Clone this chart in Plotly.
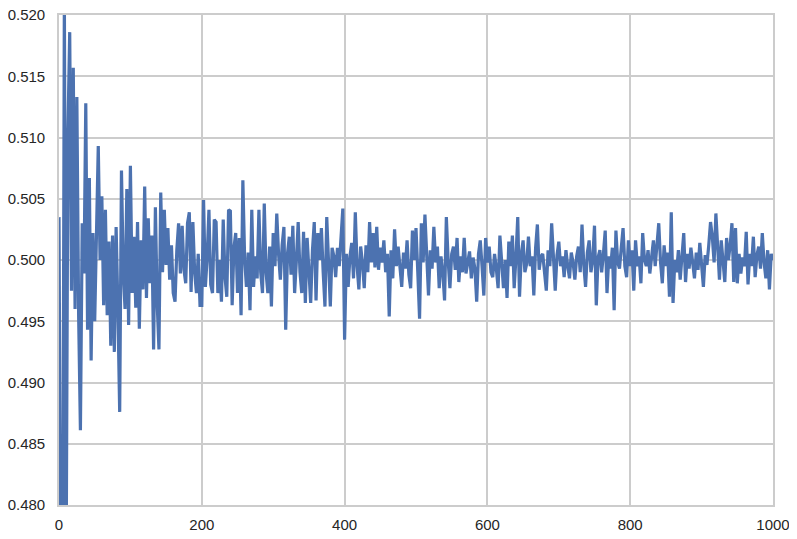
import numpy as np
import plotly.graph_objects as go

# Values, in order of x (0 .. 1000, evenly spaced)
y_000_100 = [0.5035, 0.4700, 0.4680, 0.5215, 0.4750, 0.5104, 0.5186, 0.4975, 0.5157, 0.4960,
             0.5133, 0.4955, 0.4861, 0.5030, 0.4989, 0.5128, 0.4943, 0.5067, 0.4918, 0.5022,
             0.4950, 0.5037, 0.5093, 0.5000, 0.5052, 0.4963, 0.5041, 0.4955, 0.5015, 0.4930,
             0.5020, 0.4925, 0.5027, 0.4960, 0.4876, 0.5073, 0.4990, 0.4960, 0.5058, 0.4947]
y_100_200 = [0.5077, 0.4973, 0.5019, 0.4961, 0.5031, 0.4944, 0.5016, 0.4976, 0.5060, 0.4969,
             0.5034, 0.4981, 0.5020, 0.4927, 0.5043, 0.4965, 0.4927, 0.5055, 0.4990, 0.5041,
             0.4996, 0.5026, 0.4984, 0.5012, 0.4973, 0.4966, 0.5008, 0.5030, 0.4989, 0.5028,
             0.4992, 0.4981, 0.5030, 0.5039, 0.4974, 0.5031, 0.4990, 0.4973, 0.5005, 0.4963]
y_200_300 = [0.4963, 0.5049, 0.4978, 0.5002, 0.5041, 0.4980, 0.4973, 0.5033, 0.5031, 0.4973,
             0.5000, 0.4966, 0.5033, 0.4986, 0.4970, 0.5041, 0.5040, 0.4963, 0.5010, 0.5022,
             0.4973, 0.5018, 0.4955, 0.5065, 0.5001, 0.4978, 0.5006, 0.4959, 0.5041, 0.4978,
             0.5003, 0.4985, 0.5041, 0.4990, 0.4973, 0.5046, 0.4990, 0.4973, 0.5011, 0.4962]
y_300_400 = [0.5022, 0.4995, 0.5038, 0.5005, 0.4984, 0.5012, 0.5027, 0.4943, 0.5005, 0.5019,
             0.4988, 0.5028, 0.4973, 0.5000, 0.5031, 0.4990, 0.4973, 0.5023, 0.4965, 0.5018,
             0.4995, 0.4965, 0.5008, 0.5031, 0.4967, 0.5022, 0.5000, 0.5026, 0.4990, 0.4962,
             0.5035, 0.5000, 0.4962, 0.5010, 0.5003, 0.4986, 0.5010, 0.4995, 0.5020, 0.5042]
y_400_500 = [0.4935, 0.5005, 0.4978, 0.5003, 0.5014, 0.4985, 0.5039, 0.4995, 0.4976, 0.5011,
             0.4998, 0.4977, 0.5012, 0.4990, 0.5031, 0.4998, 0.5022, 0.4994, 0.5027, 0.4992,
             0.5010, 0.4998, 0.5016, 0.4990, 0.5005, 0.4954, 0.5008, 0.4985, 0.5025, 0.4995,
             0.5011, 0.4990, 0.4978, 0.5006, 0.4993, 0.5016, 0.4988, 0.4977, 0.5024, 0.5000]
y_500_600 = [0.5026, 0.4990, 0.4952, 0.5030, 0.4998, 0.5037, 0.5002, 0.4971, 0.5008, 0.4993,
             0.5027, 0.4998, 0.5011, 0.4977, 0.5003, 0.4990, 0.4967, 0.5035, 0.5000, 0.4977,
             0.5005, 0.5011, 0.4992, 0.5018, 0.4982, 0.5003, 0.4990, 0.5018, 0.4989, 0.5000,
             0.5007, 0.4985, 0.5002, 0.4993, 0.4966, 0.5005, 0.5016, 0.4995, 0.4971, 0.5018]
y_600_700 = [0.4998, 0.5011, 0.4990, 0.4986, 0.5005, 0.4993, 0.4977, 0.5020, 0.4996, 0.4977,
             0.5000, 0.4969, 0.5015, 0.4995, 0.5020, 0.4977, 0.5002, 0.5035, 0.4970, 0.5005,
             0.5016, 0.4990, 0.4997, 0.5019, 0.4995, 0.5003, 0.4971, 0.5010, 0.5029, 0.4992,
             0.5003, 0.5005, 0.4990, 0.4975, 0.5008, 0.4995, 0.5030, 0.4998, 0.4975, 0.5004]
y_700_800 = [0.5015, 0.4995, 0.5003, 0.4986, 0.5008, 0.4995, 0.4985, 0.5006, 0.4998, 0.4984,
             0.5003, 0.5011, 0.4990, 0.5029, 0.4996, 0.4978, 0.5006, 0.5016, 0.4990, 0.5000,
             0.5028, 0.4963, 0.5002, 0.5008, 0.4990, 0.5005, 0.5024, 0.4973, 0.5003, 0.4993,
             0.5010, 0.4959, 0.5024, 0.4998, 0.4993, 0.5010, 0.5026, 0.4995, 0.4986, 0.5016]
y_800_900 = [0.4995, 0.5008, 0.4975, 0.5016, 0.4995, 0.5003, 0.4981, 0.5022, 0.5000, 0.4995,
             0.5008, 0.4989, 0.5003, 0.5016, 0.4995, 0.5010, 0.5030, 0.4998, 0.4981, 0.5012,
             0.4995, 0.5006, 0.4970, 0.5039, 0.4965, 0.5000, 0.4990, 0.5008, 0.4984, 0.5003,
             0.5022, 0.4982, 0.5005, 0.4993, 0.5010, 0.4998, 0.4985, 0.5006, 0.4992, 0.5014]
y_900_1000 = [0.4995, 0.4978, 0.5004, 0.4996, 0.5012, 0.5031, 0.5019, 0.4998, 0.5038, 0.5005,
              0.4984, 0.5016, 0.4996, 0.4982, 0.5018, 0.5000, 0.5012, 0.5030, 0.4982, 0.5026,
              0.4981, 0.5005, 0.4989, 0.5002, 0.4995, 0.5023, 0.4980, 0.5005, 0.4995, 0.5019,
              0.4986, 0.5004, 0.5011, 0.4993, 0.5022, 0.4998, 0.4985, 0.5008, 0.4976, 0.5005,
              0.5000]

x_ticks = [0, 200, 400, 600, 800, 1000]
y_ticks = [0.480, 0.485, 0.490, 0.495, 0.500, 0.505, 0.510, 0.515, 0.520]

values = (y_000_100 + y_100_200 + y_200_300 + y_300_400 + y_400_500 +
          y_500_600 + y_600_700 + y_700_800 + y_800_900 + y_900_1000)
x = np.linspace(0, 1000, len(values))

fig = go.Figure()
fig.add_trace(go.Scatter(x=x, y=values, mode="lines",
                         line=dict(color="#4C72B0", width=3.2),
                         showlegend=False, hoverinfo="skip"))

font = dict(family="Liberation Sans, Arial, sans-serif", size=15, color="#262626")
# the page adds an 8px body margin, so the figure is sized to fit the 797x539 window
fig.update_layout(
    width=789, height=531,
    margin=dict(l=51, r=24, t=7, b=34, autoexpand=False),
    paper_bgcolor="white", plot_bgcolor="white",
    font=font,
)
fig.update_xaxes(range=[0, 1000], tickvals=x_ticks, ticktext=[str(v) for v in x_ticks],
                 showgrid=True, gridcolor="#CCCCCC", gridwidth=1.6,
                 showline=True, linecolor="#CCCCCC", linewidth=1.6, mirror=True,
                 zeroline=False, ticks="outside", ticklen=5, tickcolor="rgba(0,0,0,0)",
                 tickfont=font, automargin=False, ticklabeloverflow="allow")
fig.update_yaxes(range=[0.480, 0.520], tickvals=y_ticks, ticktext=[f"{v:.3f}" for v in y_ticks],
                 showgrid=True, gridcolor="#CCCCCC", gridwidth=1.6,
                 showline=True, linecolor="#CCCCCC", linewidth=1.6, mirror=True,
                 zeroline=False, ticks="outside", ticklen=9, tickcolor="rgba(0,0,0,0)",
                 tickfont=font, automargin=False, ticklabeloverflow="allow")

fig.write_html("out.html")
